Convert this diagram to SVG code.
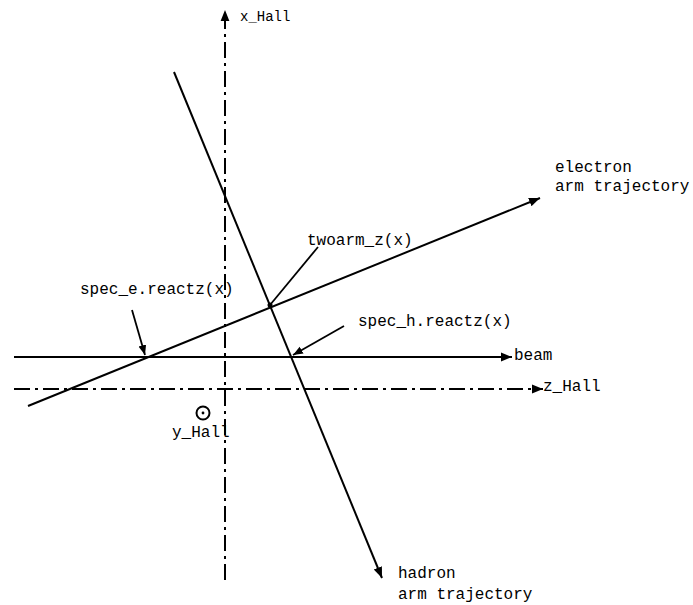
<svg xmlns="http://www.w3.org/2000/svg" width="693" height="605" viewBox="0 0 693 605">
<style>
text{font-family:"Liberation Mono","DejaVu Sans Mono",monospace;font-size:16px;fill:#000}
.ln{stroke:#000;stroke-width:2;fill:none}
.ax{stroke:#000;stroke-width:2;fill:none;stroke-dasharray:16 5 3 5}
.lb{stroke:#000;stroke-width:1.8;fill:none}
</style>
<defs>
<marker id="ah" viewBox="0 0 10 10" refX="10" refY="5" markerWidth="5.5" markerHeight="5.5" orient="auto" markerUnits="strokeWidth">
<path d="M0,1 L10,5 L0,9 z" fill="#000"/>
</marker>
</defs>
<rect width="693" height="605" fill="#fff"/>
<g id="connectors">
<line class="ax" x1="225" y1="580" x2="225" y2="10" marker-end="url(#ah)"/>
<line class="ax" x1="14" y1="389" x2="543" y2="389" marker-end="url(#ah)"/>
<line class="ln" x1="14" y1="357" x2="512" y2="357" marker-end="url(#ah)"/>
<line class="ln" x1="28" y1="406" x2="540" y2="198" marker-end="url(#ah)"/>
<line class="ln" x1="174" y1="72" x2="382" y2="578" marker-end="url(#ah)"/>
<line class="lb" x1="132" y1="310" x2="145" y2="355" marker-end="url(#ah)"/>
<line class="lb" x1="344" y1="326" x2="293" y2="355" marker-end="url(#ah)"/>
<line class="lb" x1="318" y1="247" x2="270" y2="305"/>
</g>
<g id="x_Hall"><text x="240" y="21" style="font-size:14px">x_Hall</text></g>
<g id="z_Hall"><text x="543" y="391">z_Hall</text></g>
<g id="beam"><text x="514" y="360">beam</text></g>
<g id="y_Hall">
<circle cx="203" cy="413" r="6.5" fill="none" stroke="#000" stroke-width="2"/>
<circle cx="203" cy="413" r="1.4" fill="#000"/>
<text x="172" y="437">y_Hall</text>
</g>
<g id="electron"><text x="555" y="172">electron</text><text x="555" y="191">arm trajectory</text></g>
<g id="hadron"><text x="398" y="578">hadron</text><text x="398" y="599">arm trajectory</text></g>
<g id="twoarm"><text x="307" y="245">twoarm_z(x)</text></g>
<g id="spec_e"><text x="80" y="294">spec_e.reactz(x)</text></g>
<g id="spec_h"><text x="358" y="326">spec_h.reactz(x)</text></g>
<circle cx="270" cy="305" r="2.5" fill="#000"/>
</svg>
